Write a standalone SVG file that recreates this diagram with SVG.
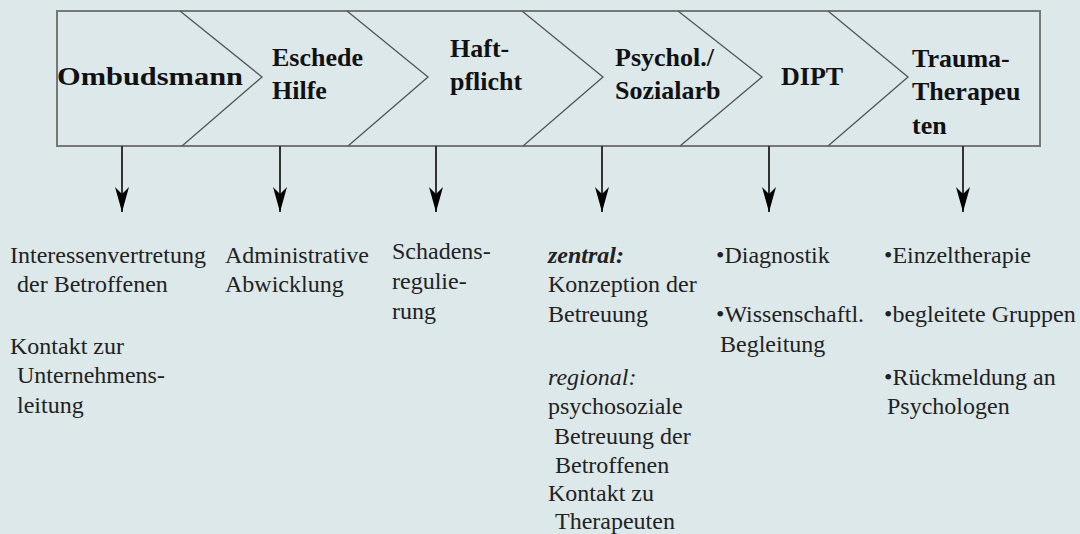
<svg xmlns="http://www.w3.org/2000/svg" width="1080" height="534" viewBox="0 0 1080 534">
<defs>
<style>
.hd{font-weight:bold;font-size:26px;fill:#111}
.tx{font-size:24px;fill:#222}
.chev{fill:none;stroke:#555;stroke-width:1.3}
.conn{stroke:#333;stroke-width:2;fill:none}
</style>
<marker id="ah" viewBox="0 -8 26 16" refX="25" refY="0" markerWidth="26" markerHeight="16" markerUnits="userSpaceOnUse" orient="auto">
<path d="M0,-7 L25,0 L0,7 L7,0 Z" fill="#000"/>
</marker>
</defs>
<rect width="1080" height="534" fill="#dde8ea"/>
<g id="process-bar">
<rect x="57" y="11" width="983" height="135" fill="#dde8ea" stroke="#777" stroke-width="2"/>
<polyline class="chev" points="180,11 262,77 182,146"/>
<polyline class="chev" points="347,11 428,77 348,146"/>
<polyline class="chev" points="522,11 603,77 523,146"/>
<polyline class="chev" points="678,11 762,77 680,146"/>
<polyline class="chev" points="828,11 908,77 828,146"/>
</g>
<g font-family="Liberation Serif, Times New Roman, serif">
<g id="n1"><text class="hd" x="57" y="85" textLength="186" lengthAdjust="spacingAndGlyphs">Ombudsmann</text></g>
<g id="n2"><text class="hd" x="272" y="66">Eschede</text><text class="hd" x="272" y="99">Hilfe</text></g>
<g id="n3"><text class="hd" x="450" y="57">Haft-</text><text class="hd" x="450" y="90">pflicht</text></g>
<g id="n4"><text class="hd" x="615" y="66">Psychol./</text><text class="hd" x="615" y="99">Sozialarb</text></g>
<g id="n5"><text class="hd" x="781" y="85">DIPT</text></g>
<g id="n6"><text class="hd" x="912" y="67">Trauma-</text><text class="hd" x="912" y="100">Therapeu</text><text class="hd" x="912" y="134">ten</text></g>
</g>
<g id="connectors">
<line class="conn" x1="122" y1="146" x2="122" y2="212" marker-end="url(#ah)"/>
<line class="conn" x1="280" y1="146" x2="280" y2="212" marker-end="url(#ah)"/>
<line class="conn" x1="436" y1="146" x2="436" y2="212" marker-end="url(#ah)"/>
<line class="conn" x1="602" y1="146" x2="602" y2="212" marker-end="url(#ah)"/>
<line class="conn" x1="769" y1="146" x2="769" y2="212" marker-end="url(#ah)"/>
<line class="conn" x1="963" y1="146" x2="963" y2="212" marker-end="url(#ah)"/>
</g>
<g font-family="Liberation Serif, Times New Roman, serif">
<g id="d1">
<text class="tx" x="10" y="263">Interessenvertretung</text>
<text class="tx" x="17" y="292">der Betroffenen</text>
<text class="tx" x="10" y="354">Kontakt zur</text>
<text class="tx" x="17" y="383">Unternehmens-</text>
<text class="tx" x="17" y="413">leitung</text>
</g>
<g id="d2">
<text class="tx" x="225" y="263">Administrative</text>
<text class="tx" x="225" y="292">Abwicklung</text>
</g>
<g id="d3">
<text class="tx" x="392" y="259">Schadens-</text>
<text class="tx" x="392" y="289">regulie-</text>
<text class="tx" x="392" y="319">rung</text>
</g>
<g id="d4">
<text class="tx" x="548" y="263" font-style="italic" font-weight="bold">zentral:</text>
<text class="tx" x="548" y="292">Konzeption der</text>
<text class="tx" x="548" y="322">Betreuung</text>
<text class="tx" x="548" y="385" font-style="italic">regional:</text>
<text class="tx" x="548" y="414">psychosoziale</text>
<text class="tx" x="554" y="444">Betreuung der</text>
<text class="tx" x="555" y="473">Betroffenen</text>
<text class="tx" x="548" y="501">Kontakt zu</text>
<text class="tx" x="555" y="529">Therapeuten</text>
</g>
<g id="d5">
<text class="tx" x="716" y="263">•Diagnostik</text>
<text class="tx" x="716" y="322">•Wissenschaftl.</text>
<text class="tx" x="720" y="352">Begleitung</text>
</g>
<g id="d6">
<text class="tx" x="884" y="263">•Einzeltherapie</text>
<text class="tx" x="884" y="322">•begleitete Gruppen</text>
<text class="tx" x="884" y="385">•Rückmeldung an</text>
<text class="tx" x="887" y="414">Psychologen</text>
</g>
</g>
</svg>
